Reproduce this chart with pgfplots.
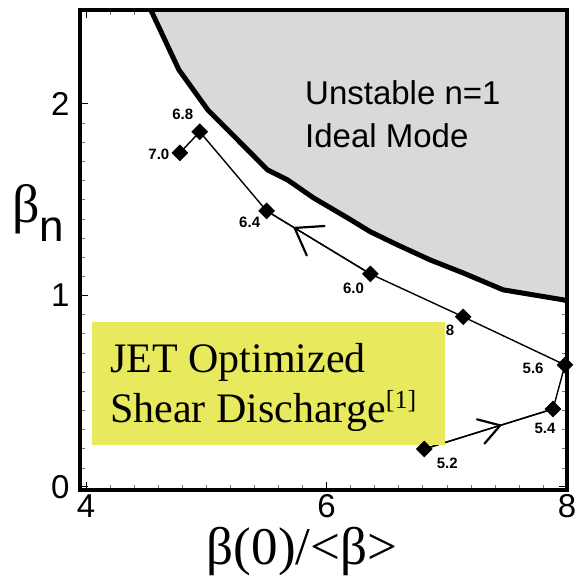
\documentclass[border=0pt]{standalone}
\usepackage{graphicx}
\usepackage{fontspec}
\setmainfont{Liberation Serif}
\setsansfont{Liberation Sans}
\usepackage{pgfplots}
\pgfplotsset{compat=1.18}
\usetikzlibrary{decorations.markings}

\definecolor{unstablegray}{RGB}{217,217,217}
\definecolor{boxyellow}{RGB}{232,233,92}

\begin{document}
\begin{tikzpicture}
\useasboundingbox (-80pt,-87pt) rectangle (497pt,490pt);
\begin{axis}[
  scale only axis, width=487pt, height=480pt,
  xmin=3.95, xmax=8, ymin=-0.016, ymax=2.49,
  clip=false,
  axis line style={draw=none},
  xtick={4,6,8}, ytick={0,1,2},
  minor x tick num=9, minor y tick num=9,
  tick align=inside,
  major tick length=8pt, minor tick length=5pt,
  major tick style={black, line width=0.9pt},
  minor tick style={black!55, line width=0.5pt},
  ticklabel style={font=\sffamily\fontsize{33}{33}\selectfont},
  xticklabel style={yshift=-1pt},
  yticklabel style={xshift=-7pt},
  /pgf/number format/assume math mode=true,
  xlabel={β(0)/<β>},
  xlabel style={font=\fontsize{53}{53}\selectfont, inner sep=0pt,
    at={(axis description cs:0.456,-0.156)}, anchor=base},
  ylabel={β\raisebox{-19pt}{\sffamily\fontsize{44}{44}\selectfont n}},
  ylabel style={rotate=-90, font=\fontsize{54}{54}\selectfont, inner sep=0pt,
    at={(axis description cs:-0.086,0.577)}, anchor=center},
]

% unstable region above the n=1 ideal stability boundary
\addplot[fill=unstablegray, draw=none] coordinates {
  (4.539,2.49) (4.772,2.178) (5.012,1.969) (5.261,1.812)
  (5.510,1.655) (5.676,1.603) (5.892,1.509) (6.174,1.405) (6.365,1.332)
  (6.589,1.264) (6.863,1.185) (7.137,1.117) (7.469,1.029) (7.967,0.977)
  (8.0,0.971) (8.0,2.49)} -- cycle;
\addplot[black, line width=5pt, line join=round] coordinates {
  (4.539,2.49) (4.772,2.178) (5.012,1.969) (5.261,1.812)
  (5.510,1.655) (5.676,1.603) (5.892,1.509) (6.174,1.405) (6.365,1.332)
  (6.589,1.264) (6.863,1.185) (7.137,1.117) (7.469,1.029) (7.967,0.977)
  (8.0,0.971)};

% discharge trajectory, t = 5.2 ... 7.0 s
\addplot[black, line width=1.4pt, mark=square*, mark size=5.2pt,
  mark options={rotate=45, solid}] coordinates {
  (6.813,0.198) (7.884,0.407) (7.983,0.637) (7.137,0.888)
  (6.365,1.112) (5.502,1.441) (4.946,1.854) (4.780,1.744)};

% direction arrows along the trajectory
\addplot[black, line width=1.4pt, postaction={decorate}, decoration={markings,
  mark=at position 0.59 with {\draw[line width=2.2pt, line cap=round, line join=miter]
    (-20.4pt,12.7pt) -- (0pt,0pt) -- (-20.4pt,-12.7pt);}}]
  coordinates {(6.813,0.198) (7.884,0.407)};
\addplot[black, line width=1.4pt, postaction={decorate}, decoration={markings,
  mark=at position 0.73 with {\draw[line width=2.2pt, line cap=round, line join=miter]
    (-24.6pt,17.2pt) -- (0pt,0pt) -- (-24.6pt,-17.2pt);}}]
  coordinates {(6.365,1.112) (5.502,1.441)};

% time labels
\begin{scope}[every node/.style={font=\sffamily\bfseries\fontsize{15}{15}\selectfont, inner sep=0pt}]
\node at (axis cs:4.606,1.739) {7.0};
\node at (axis cs:4.805,1.943) {6.8};
\node at (axis cs:5.361,1.384) {6.4};
\node at (axis cs:6.224,1.039) {6.0};
\node at (axis cs:6.975,0.820) {5.8};
\node at (axis cs:7.718,0.621) {5.6};
\node at (axis cs:7.817,0.308) {5.4};
\node at (axis cs:7.004,0.125) {5.2};
\end{scope}

% caption box
\fill[boxyellow] (axis cs:4.05,0.219) rectangle (axis cs:6.985,0.862);
\node[anchor=base west, inner sep=0pt, font=\fontsize{42}{42}\selectfont]
  at (axis cs:4.20,0.600) {JET Optimized};
\node[anchor=base west, inner sep=0pt, font=\fontsize{42}{42}\selectfont]
  at (axis cs:4.20,0.339) {Shear Discharge\raisebox{14pt}{\fontsize{26}{26}\selectfont[1]}};

% region label
\node[anchor=base west, inner sep=0pt, font=\sffamily\fontsize{33}{33}\selectfont]
  at (axis cs:5.821,1.995) {Unstable n=1};
\node[anchor=base west, inner sep=0pt, font=\sffamily\fontsize{33}{33}\selectfont]
  at (axis cs:5.821,1.770) {Ideal Mode};

% heavy frame
\addplot[black, line width=4.5pt, line join=miter, mark=none] coordinates {
  (3.95,-0.016) (8,-0.016) (8,2.49) (3.95,2.49)} -- cycle;
\end{axis}
\end{tikzpicture}
\end{document}
